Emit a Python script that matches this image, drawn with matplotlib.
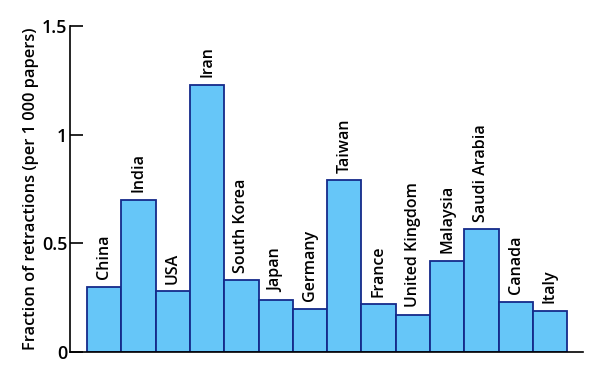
import matplotlib.pyplot as plt
import numpy as np

countries = ["China", "India", "USA", "Iran", "South Korea", "Japan", "Germany",
             "Taiwan", "France", "United Kingdom", "Malaysia", "Saudi Arabia",
             "Canada", "Italy"]
retractions = [0.30, 0.70, 0.28, 1.23, 0.33, 0.24, 0.20,
               0.79, 0.22, 0.17, 0.42, 0.565, 0.23, 0.19]
yticks = [0, 0.5, 1, 1.5]
ytick_labels = ["0", "0.5", "1", "1.5"]

plt.rcParams['font.family'] = ['Open Sans', 'DejaVu Sans']

fig = plt.figure(figsize=(6, 3.78), dpi=100)
ax = fig.add_axes([0.1167, 0.0688, 0.8553, 0.8624])

x = np.arange(len(countries))
ax.bar(x, retractions, width=1.0, color="#66c6f8", edgecolor="#152a8a", linewidth=1.3)

for xi, v, name in zip(x, retractions, countries):
    ax.text(xi, v + 0.035, name, rotation=90, ha="center", va="bottom",
            fontsize=11.5, fontweight="semibold")

ax.set_xlim(-1, 13.97)
ax.set_ylim(0, 1.5)
ax.set_xticks([])
ax.set_yticks(yticks)
ax.set_yticklabels(ytick_labels, fontsize=13, fontweight="semibold")
ax.tick_params(axis="y", length=9, width=1.2, direction="in", pad=2)
ax.set_ylabel("Fraction of retractions (per 1 000 papers)", fontsize=11.8,
              fontweight="semibold", labelpad=2)

ax.spines["top"].set_visible(False)
ax.spines["right"].set_visible(False)
ax.spines["left"].set_linewidth(1.2)
ax.spines["bottom"].set_linewidth(1.2)

fig.savefig("out.png", dpi=100)
